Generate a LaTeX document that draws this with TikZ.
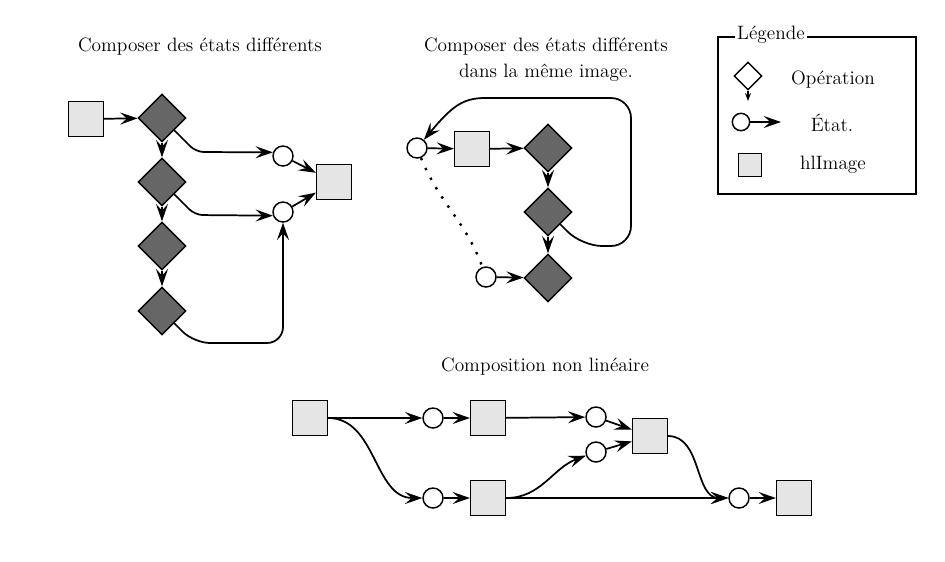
\documentclass[tikz,border=0pt]{standalone}
\usetikzlibrary{arrows.meta,shapes.geometric}

\tikzset{
  img/.style={draw,line width=1.1pt,fill=black!10,minimum size=26pt,inner sep=0pt},
  op/.style={diamond,draw,line width=1.1pt,fill=black!60,minimum size=36pt,inner sep=0pt},
  etat/.style={circle,draw,line width=1.1pt,fill=white,minimum size=15pt,inner sep=0pt},
  lien/.style={line width=1.3pt,-{Stealth[length=13pt,width=9pt,inset=5pt]}},
  pointille/.style={line width=1.8pt,dash pattern=on 1.8pt off 6.4pt},
  titre/.style={font=\fontsize{14.5}{19.5}\selectfont,align=center},
}

\begin{document}
\begin{tikzpicture}[x=0.75pt,y=-0.75pt]

\useasboundingbox (0,0) rectangle (945,561);

\node[titre] (t1) at (200,47) {Composer des états différents};

\node[img] (i1) at (86,119) {};
\node[op] (o1) at (162,118) {};
\node[op] (o2) at (162,182) {};
\node[op] (o3) at (162,246) {};
\node[op] (o4) at (162,311) {};
\node[etat] (e1) at (283,156) {};
\node[etat] (e2) at (283,212) {};
\node[img] (i2) at (334,182) {};

\draw[lien] (i1) -- (o1);
\draw[lien] (o1) -- (o2);
\draw[lien] (o2) -- (o3);
\draw[lien] (o3) -- (o4);
\draw[lien,rounded corners=6pt] (o1.south east) -- (196,152) -- (e1.160);
\draw[lien,rounded corners=6pt] (o2.south east) -- (195,215) -- (e2.200);
\draw[lien,rounded corners=12pt] (o4.south east) -- (194,343) -- (283,343) -- (e2);
\draw[lien] (e1) -- (i2);
\draw[lien] (e2) -- (i2);


\node[titre] (t2) at (546,60) {Composer des états différents\\dans la même image.};

\node[etat] (m1) at (417,148) {};
\node[img] (m2) at (472,149) {};
\node[op] (m3) at (548,148) {};
\node[op] (m4) at (548,212) {};
\node[op] (m5) at (548,278) {};
\node[etat] (m6) at (486,277) {};

\draw[lien] (m1) -- (m2);
\draw[lien] (m2) -- (m3);
\draw[lien] (m3) -- (m4);
\draw[lien] (m4) -- (m5);
\draw[lien] (m6) -- (m5);
\draw[lien,rounded corners=15pt] (m4.south east) -- (582,246) -- (631,246) -- (631,98) -- (505,98) [sharp corners] to[out=180,in=50,looseness=1.2] (m1);
\draw[pointille] (m1) to[out=-68,in=110] (m6);


\draw[line width=1.1pt] (718,37) rectangle (916,194);
\node[titre,fill=white,inner sep=2pt] (lt) at (771,35) {Légende};

\node[op,fill=white,minimum size=21pt] (lo) at (748,76) {};
\coordinate (lo2) at (748,101);
\draw[line width=1.1pt,-{Stealth[length=6pt,width=4.5pt,inset=2pt]}] (lo) -- (lo2);
\node[titre] (lot) at (833,80) {Opération};

\node[etat,minimum size=13pt] (le) at (741,122) {};
\coordinate (le2) at (781,122);
\draw[lien] (le) -- (le2);
\node[titre] (let) at (832,123) {État.};

\node[img,minimum size=17pt] (li) at (750,165) {};
\node[titre] (lit) at (833,165) {hlImage};


\node[titre] (t3) at (545,367) {Composition non linéaire};

\node[img] (n1) at (310,418) {};
\node[etat] (n2) at (433,418) {};
\node[img] (n3) at (488,418) {};
\node[etat] (n4) at (433,498) {};
\node[img] (n5) at (488,498) {};
\node[etat] (n6) at (596,417) {};
\node[etat] (n7) at (596,452) {};
\node[img] (n8) at (650,436) {};
\node[etat] (n9) at (739,498) {};
\node[img] (n10) at (794,498) {};

\draw[lien] (n1) -- (n2);
\draw[lien] (n1.east) to[out=0,in=180] (n4);
\draw[lien] (n2) -- (n3);
\draw[lien] (n4) -- (n5);
\draw[lien] (n3) -- (n6);
\draw[lien] (n5.east) to[out=0,in=200] (n7);
\draw[lien] (n5) -- (n9);
\draw[lien] (n6) -- (n8);
\draw[lien] (n7) -- (n8);
\draw[lien] (n8.east) to[out=0,in=180] (n9);
\draw[lien] (n9) -- (n10);

\end{tikzpicture}
\end{document}
